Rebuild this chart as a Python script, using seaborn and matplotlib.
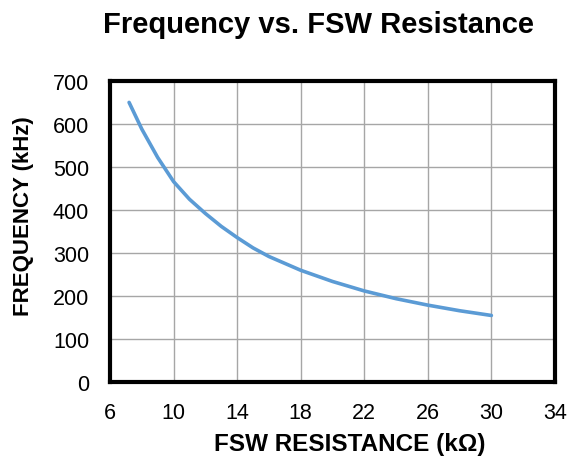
import matplotlib
matplotlib.use("Agg")
import matplotlib.pyplot as plt
import seaborn as sns
import pandas as pd

resistance_kohm = [7.2, 8, 9, 10, 11, 12, 13, 14, 15, 16, 18, 20, 22, 24, 26, 28, 30]
frequency_khz = [650, 588, 522, 466, 425, 392, 362, 336, 312, 292, 260, 234, 212, 194, 179, 166, 155]
x_ticks = [6, 10, 14, 18, 22, 26, 30, 34]
y_ticks = [0, 100, 200, 300, 400, 500, 600, 700]

df = pd.DataFrame({"R": resistance_kohm, "F": frequency_khz})

sns.set_style("white")
plt.rcParams['font.family'] = ['Liberation Sans', 'DejaVu Sans']
plt.rcParams['text.color'] = 'black'
plt.rcParams['axes.labelcolor'] = 'black'

fig = plt.figure(figsize=(5.68, 4.60), dpi=100)
ax = fig.add_axes([0.1937, 0.167, 0.7833, 0.655])
sns.lineplot(data=df, x="R", y="F", ax=ax, color="#5B9BD5", linewidth=2.6)

ax.set_xlim(6, 34)
ax.set_ylim(0, 700)
ax.set_xticks(x_ticks)
ax.set_yticks(y_ticks)
ax.grid(True, color="#A6A6A6", linewidth=1.0)
ax.set_axisbelow(True)
for s in ax.spines.values():
    s.set_visible(True)
    s.set_color("black")
    s.set_linewidth(3)
ax.tick_params(axis="both", labelsize=15.5, length=0, colors="black")
ax.tick_params(axis="y", pad=15)
ax.tick_params(axis="x", pad=14)
ax.set_xlabel("FSW RESISTANCE (kΩ)", fontsize=17.5, fontweight="bold", va="center")
ax.set_ylabel("FREQUENCY (kHz)", fontsize=16, fontweight="bold", va="center")
ax.xaxis.set_label_coords(0.539, -0.203)
ax.yaxis.set_label_coords(-0.194, 0.556)
fig.suptitle("Frequency vs. FSW Resistance", fontsize=21, fontweight="bold",
             x=0.561, y=0.928, va="baseline")

fig.savefig("out.png", dpi=100)
